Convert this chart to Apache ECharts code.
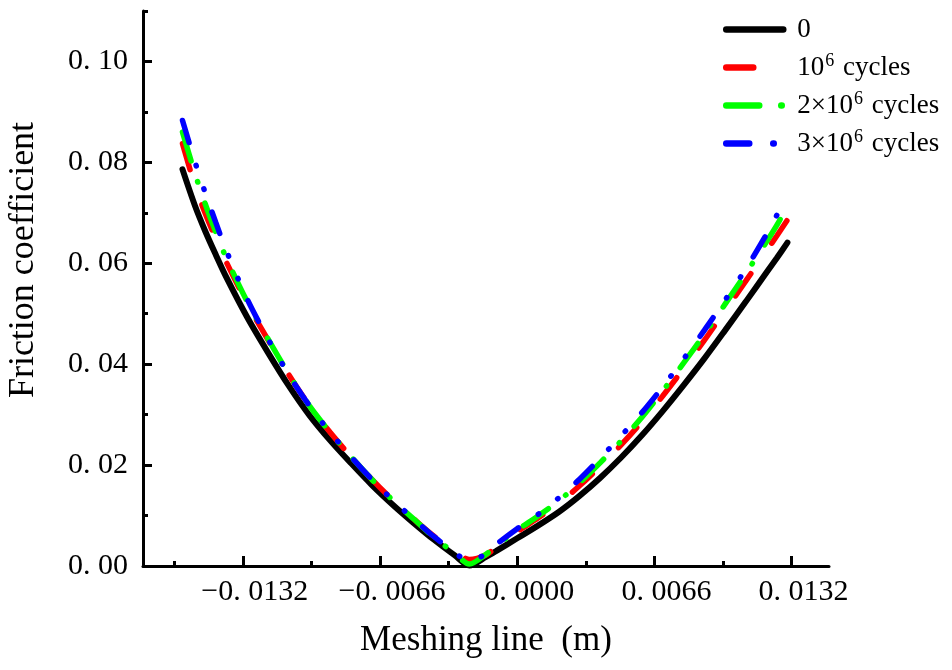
<!DOCTYPE html>
<html>
<head>
<meta charset="utf-8">
<script src="https://cdn.jsdelivr.net/npm/echarts@6/dist/echarts.min.js"></script>
<style>
html,body{margin:0;padding:0;background:#fff;}
#chart{width:952px;height:670px;}
</style>
</head>
<body>
<div id="chart"></div>
<script>
// Meshing line positions (m)
const meshX = [-0.0161, -0.0155, -0.015, -0.0145, -0.014, -0.013, -0.012, -0.011, -0.010, -0.009, -0.008, -0.007, -0.006, -0.005, -0.004, -0.003, -0.0023, -0.0015, -0.001, 0.000, 0.001, 0.002, 0.003, 0.004, 0.005, 0.006, 0.007, 0.008, 0.009, 0.010, 0.011, 0.012, 0.0125, 0.013];
// Friction coefficient, 0 cycles
const friction0 = [0.0786, 0.0714, 0.0663, 0.0617, 0.0573, 0.0494, 0.0424, 0.0358, 0.0299, 0.0249, 0.0204, 0.0161, 0.0122, 0.0086, 0.0052, 0.0021, 0.0001, 0.0018, 0.0030, 0.0055, 0.0080, 0.0107, 0.0139, 0.0175, 0.0215, 0.0259, 0.0307, 0.0358, 0.0411, 0.0467, 0.0524, 0.0582, 0.0611, 0.0641];
// 10^6 cycles
const friction1 = [0.0837, 0.0754, 0.0698, 0.0649, 0.0603, 0.0521, 0.0449, 0.0380, 0.0318, 0.0265, 0.0217, 0.0172, 0.0131, 0.0094, 0.0059, 0.0031, 0.0013, 0.0022, 0.0038, 0.0068, 0.0095, 0.0124, 0.0159, 0.0198, 0.0240, 0.0286, 0.0337, 0.0391, 0.0447, 0.0506, 0.0565, 0.0625, 0.0655, 0.0686];
// 2x10^6 cycles
const friction2 = [0.0860, 0.0778, 0.0717, 0.0662, 0.0611, 0.0525, 0.0451, 0.0381, 0.0318, 0.0265, 0.0217, 0.0172, 0.0131, 0.0094, 0.0057, 0.0025, 0.0004, 0.0023, 0.0040, 0.0071, 0.0099, 0.0129, 0.0165, 0.0205, 0.0248, 0.0295, 0.0347, 0.0402, 0.0459, 0.0519, 0.0580, 0.0643, 0.0676, 0.0713];
// 3x10^6 cycles
const friction3 = [0.0883, 0.0801, 0.0739, 0.0681, 0.0626, 0.0530, 0.0451, 0.0380, 0.0318, 0.0265, 0.0217, 0.0172, 0.0131, 0.0094, 0.0058, 0.0027, 0.0008, 0.0025, 0.0043, 0.0074, 0.0102, 0.0135, 0.0172, 0.0214, 0.0258, 0.0304, 0.0355, 0.0410, 0.0467, 0.0527, 0.0589, 0.0658, 0.0696, 0.0736];

const xMajorTicks = [-0.0132, -0.0066, 0, 0.0066, 0.0132];
const xMinorTicks = [-0.0165, -0.0099, -0.0033, 0.0033, 0.0099];
const yMajorTicks = [0, 0.02, 0.04, 0.06, 0.08, 0.10];
const yMinorTicks = [0.01, 0.03, 0.05, 0.07, 0.09, 0.11];

const seriesNames = ['0', '1e6', '2e6', '3e6'];
const legendLabels = {
  '0': '0',
  '1e6': '10{sup|6} cycles',
  '2e6': '2\u00d710{sup|6} cycles',
  '3e6': '3\u00d710{sup|6} cycles'
};

const FONT = 'Liberation Serif';
const pair = ys => meshX.map((x, i) => [x, ys[i]]);

function xFmt(v) {
  const s = Math.abs(v).toFixed(4).replace('0.', '0. ');
  return (v < -1e-9 ? '\u2212' : '') + s;
}
function yFmt(v) {
  return v.toFixed(2).replace('0.', '0. ');
}

const colors = ['#000000', '#ff0000', '#00ff00', '#0000ff'];
const chartDash = ['solid', [27, 37], [30, 22, 0.5, 22], [23, 24, 0.5, 24, 0.5, 24]];
const legendDash = ['solid', [27, 40], [33, 22, 0.5, 40], [23, 24, 0.5, 40]];

const chart = echarts.init(document.getElementById('chart'), null, {renderer: 'canvas'});
const axisLineStyle = {color: '#000', width: 3};

chart.setOption({
  animation: false,
  backgroundColor: '#fff',
  grid: {left: 143, right: 123, top: 11, bottom: 104, containLabel: false},
  legend: {
    orient: 'vertical',
    left: 718,
    top: 9,
    itemWidth: 57,
    itemHeight: 14,
    itemGap: 7,
    itemStyle: {opacity: 0, borderWidth: 0},
    data: seriesNames.map((n, i) => ({
      name: n,
      itemStyle: {opacity: 0, borderWidth: 0},
      lineStyle: {color: colors[i], width: 6.5, type: legendDash[i], cap: 'round', opacity: 1}
    })),
    formatter: n => legendLabels[n],
    textStyle: {
      fontFamily: FONT,
      fontSize: 27,
      color: '#000',
      padding: [0, 0, 0, 9],
      lineHeight: 31,
      rich: {
        sup: {fontFamily: FONT, fontSize: 18, verticalAlign: 'top', lineHeight: 31, padding: [0, 2, 10, 1]}
      }
    }
  },
  xAxis: [{
    type: 'value',
    min: -0.018,
    max: 0.015,
    position: 'bottom',
    name: 'Meshing line  (m)',
    nameLocation: 'middle',
    nameGap: 57,
    nameTextStyle: {fontFamily: FONT, fontSize: 35, color: '#000'},
    axisLine: {show: true, onZero: false, lineStyle: axisLineStyle},
    axisTick: {show: true, inside: true, length: 10, customValues: xMajorTicks, lineStyle: {color: '#000', width: 3}},
    axisLabel: {show: true, customValues: xMajorTicks, formatter: xFmt, margin: 11, fontFamily: FONT, fontSize: 30, color: '#000', padding: [0, 0, 0, 24]},
    splitLine: {show: false}
  }, {
    type: 'value',
    min: -0.018,
    max: 0.015,
    position: 'bottom',
    axisLine: {show: false, onZero: false},
    axisTick: {show: true, inside: true, length: 5, customValues: xMinorTicks, lineStyle: {color: '#000', width: 3}},
    axisLabel: {show: false},
    splitLine: {show: false}
  }],
  yAxis: [{
    type: 'value',
    min: 0,
    max: 0.11,
    position: 'left',
    axisLine: {show: true, onZero: false, lineStyle: axisLineStyle},
    axisTick: {show: true, inside: true, length: 9, customValues: yMajorTicks, lineStyle: {color: '#000', width: 3}},
    axisLabel: {show: true, customValues: yMajorTicks, formatter: yFmt, margin: 15, fontFamily: FONT, fontSize: 30, color: '#000', padding: [4, 0, 0, 0]},
    splitLine: {show: false}
  }, {
    type: 'value',
    min: 0,
    max: 0.11,
    position: 'left',
    axisLine: {show: false, onZero: false},
    axisTick: {show: true, inside: true, length: 5, customValues: yMinorTicks, lineStyle: {color: '#000', width: 3}},
    axisLabel: {show: false},
    splitLine: {show: false}
  }],
  graphic: [{
    type: 'text',
    x: 24,
    y: 260,
    rotation: Math.PI / 2,
    style: {text: 'Friction coefficient', font: '36px "Liberation Serif"', fill: '#000', textAlign: 'center', textVerticalAlign: 'middle'}
  }],
  series: seriesNames.map((n, i) => ({
    name: n,
    type: 'line',
    data: pair([friction0, friction1, friction2, friction3][i]),
    showSymbol: false,
    symbol: 'none',
    smooth: 0.3,
    z: 2 + i,
    lineStyle: {color: colors[i], width: i === 0 ? 6 : 5.5, type: chartDash[i], cap: 'round'},
    itemStyle: {color: colors[i]}
  }))
});
</script>
</body>
</html>
